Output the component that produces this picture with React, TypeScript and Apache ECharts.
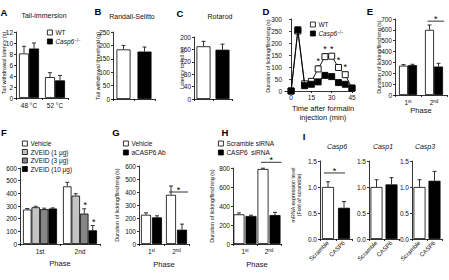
import React, { useEffect, useRef } from 'react';
import * as echarts from 'echarts';

const FONT = '"Liberation Sans", Arial, Helvetica, sans-serif';
const INK = '#111';

// ---- A: tail immersion (s) ----
const tempCats = ['48 °C', '52 °C'];
const tailWT = [8.1, 3.8];
const tailWTErr = [1.3, 0.8];
const tailKO = [9.0, 3.2];
const tailKOErr = [1.0, 0.9];

// ---- B / C: one bar per genotype ----
const genotypes = ['WT', 'Casp6-/-'];
const randallSelitto = [185, 177];
const randallSelittoErr = [15, 17];
const rotarodLatency = [170, 159];
const rotarodLatencyErr = [16, 18];

// ---- D: formalin time course ----
const formalinTimes = [0, 5, 10, 15, 20, 25, 30, 35, 40, 45];
const formalinWT = [0, 250, 30, 40, 92, 143, 145, 98, 68, 12];
const formalinWTErr = [0, 10, 6, 6, 12, 12, 10, 10, 10, 4];
const formalinKO = [0, 255, 22, 28, 38, 65, 60, 35, 28, 12];
const formalinKOErr = [0, 8, 4, 5, 5, 8, 8, 5, 5, 3];
const formalinSigTimes = [20, 25, 30, 35, 40];

// ---- E: phases, knockout ----
const phases = ['1st', '2nd'];
const phaseWT = [270, 600];
const phaseWTErr = [10, 45];
const phaseKO = [275, 262];
const phaseKOErr = [8, 30];

// ---- F: ZVEID doses ----
const zvNames = ['Vehicle', 'ZVEID (1 μg)', 'ZVEID (3 μg)', 'ZVEID (10 μg)'];
const zvVehicle = [272, 455];
const zvVehicleErr = [8, 32];
const zv1 = [290, 382];
const zv1Err = [8, 15];
const zv3 = [275, 240];
const zv3Err = [8, 38];
const zv10 = [280, 108];
const zv10Err = [5, 38];

// ---- G: antibody ----
const abVehicle = [225, 378];
const abVehicleErr = [15, 68];
const abCasp6 = [205, 110];
const abCasp6Err = [12, 43];

// ---- H: siRNA ----
const siScramble = [312, 790];
const siScrambleErr = [15, 8];
const siCasp6 = [295, 305];
const siCasp6Err = [8, 28];

// ---- I: mRNA levels ----
const siCats = ['Scramble', 'CASP6'];
const casp6mRNA = [1.0, 0.6];
const casp6mRNAErr = [0.1, 0.12];
const casp1mRNA = [1.0, 1.05];
const casp1mRNAErr = [0.14, 0.13];
const casp3mRNA = [1.0, 1.12];
const casp3mRNAErr = [0.14, 0.18];

const WHITE = '#ffffff';
const BLACK = '#000000';
const LIGHT = '#c4c4c4';
const MID = '#858585';

type Group = { name: string; colors: string | string[]; values: number[]; errors: number[] };

const errShape = (x: number, y0: number, y1: number) => ({
  type: 'group',
  children: [
    { type: 'line', shape: { x1: x, y1: y0, x2: x, y2: y1 }, style: { stroke: '#000', lineWidth: 0.8 } },
    { type: 'line', shape: { x1: x - 2, y1: y1, x2: x + 2, y2: y1 }, style: { stroke: '#000', lineWidth: 0.8 } },
  ],
});

const barCenter = (api: any, ci: number, si: number, n: number, bw: number, gap: number) =>
  api.coord([ci, 0])[0] + (si - (n - 1) / 2) * (bw + gap);

function barPanel(gi: number, groups: Group[], bw: number, gap: number): any[] {
  const n = groups.length;
  const out: any[] = groups.map((g) => ({
    type: 'bar',
    name: g.name,
    xAxisIndex: gi,
    yAxisIndex: gi,
    barWidth: bw,
    barGap: `${(gap / bw) * 100}%`,
    silent: true,
    itemStyle: { color: Array.isArray(g.colors) ? g.colors[0] : g.colors, borderColor: '#000', borderWidth: 0.8 },
    data: g.values.map((v, i) => ({
      value: v,
      itemStyle: { color: Array.isArray(g.colors) ? g.colors[i] : g.colors },
    })),
  }));
  const errData: number[][] = [];
  groups.forEach((g, si) => g.values.forEach((v, ci) => errData.push([ci, si, v, g.errors[ci]])));
  out.push({
    type: 'custom',
    xAxisIndex: gi,
    yAxisIndex: gi,
    silent: true,
    z: 1,
    encode: { x: 0, y: 2 },
    data: errData,
    renderItem: (_p: any, api: any) => {
      const ci = api.value(0);
      const si = api.value(1);
      const v = api.value(2);
      const e = api.value(3);
      const x = barCenter(api, ci, si, n, bw, gap);
      return errShape(x, api.coord([ci, v])[1], api.coord([ci, v + e])[1]);
    },
  });
  return out;
}

const star = (x: number, y: number) => ({
  type: 'text',
  x,
  y,
  style: { text: '*', fontSize: 9, fontFamily: FONT, fill: '#000', align: 'center', verticalAlign: 'middle' },
});
const hline = (x1: number, x2: number, y: number) => ({
  type: 'line',
  shape: { x1, y1: y, x2, y2: y },
  style: { stroke: '#000', lineWidth: 0.8 },
});

function annotations(gi: number, draw: (api: any) => any[]) {
  return {
    type: 'custom',
    xAxisIndex: gi,
    yAxisIndex: gi,
    silent: true,
    z: 5,
    data: [[0, 0]],
    renderItem: (_p: any, api: any) => ({ type: 'group', children: draw(api) }),
  };
}

// bracket over a pair of bars in one category, with an asterisk on top
const pairBracket = (gi: number, ci: number, n: number, bw: number, gap: number, level: number) =>
  annotations(gi, (api) => {
    const x1 = barCenter(api, ci, 0, n, bw, gap) - 2;
    const x2 = barCenter(api, ci, n - 1, n, bw, gap) + bw / 2 + 1;
    const y = api.coord([ci, level])[1];
    return [hline(x1, x2, y), star((x1 + x2) / 2, y - 2)];
  });

const axisLineStyle = { color: '#000', width: 0.8 };

const yAx = (gi: number, max: number, interval: number, fmt?: (v: number) => string) => ({
  type: 'value',
  gridIndex: gi,
  min: 0,
  max,
  interval,
  axisLine: { show: true, lineStyle: axisLineStyle },
  axisTick: { show: true, length: 2, lineStyle: axisLineStyle },
  axisLabel: { fontSize: 6.5, color: INK, fontFamily: FONT, margin: 3, formatter: fmt },
  splitLine: { show: false },
});

const supRich = { s: { fontSize: 4.5, fontFamily: FONT, color: INK, verticalAlign: 'top', lineHeight: 5 } };

const xCat = (gi: number, data: string[], label: any = {}, name = '', nameGap = 12) => ({
  type: 'category',
  gridIndex: gi,
  data,
  name,
  nameLocation: 'middle',
  nameGap,
  nameTextStyle: { fontSize: 7.5, color: INK, fontFamily: FONT },
  axisLine: { show: true, lineStyle: axisLineStyle },
  axisTick: { show: true, length: 2, lineStyle: axisLineStyle },
  axisLabel: { fontSize: 6.5, color: INK, fontFamily: FONT, margin: 4, interval: 0, hideOverlap: false, ...label },
});

const phaseLabel = {
  formatter: (v: string) => `${v.charAt(0)}{s|${v.slice(1)}}`,
  rich: supRich,
};

const legendBase = {
  orient: 'vertical',
  itemWidth: 5,
  itemHeight: 5,
  itemGap: 2,
  padding: 0,
  selectedMode: false,
  icon: 'rect',
  textStyle: {
    fontSize: 6.5,
    fontFamily: FONT,
    color: INK,
    padding: [0, 0, 0, -2],
    rich: {
      i: { fontSize: 6.5, fontFamily: FONT, color: INK, fontStyle: 'italic' },
      s: { fontSize: 4.5, fontFamily: FONT, color: INK, verticalAlign: 'top', lineHeight: 5 },
    },
  },
  formatter: (name: string) => (name === 'Casp6-/-' ? '{i|Casp6}{s|−/−}' : name),
};
const legendItem = (name: string, color: string) => ({
  name,
  itemStyle: { color, borderColor: '#000', borderWidth: 0.8 },
});

const txt = (x: number, y: number, text: string, size: number, extra: any = {}) => ({
  type: 'text',
  x,
  y,
  silent: true,
  style: { text, fontSize: size, fontFamily: FONT, fill: INK, align: 'center', verticalAlign: 'middle', ...extra },
});
const vtxt = (x: number, y: number, text: string, size: number) => ({
  ...txt(x, y, text, size),
  rotation: Math.PI / 2,
});
const letter = (x: number, y: number, text: string) => txt(x, y, text, 9.5, { fontWeight: 'bold', fill: '#000' });

function buildOption(): any {
  const grids = [
    { left: 16, top: 32, width: 52, height: 66 }, // A
    { left: 113, top: 32, width: 42, height: 67 }, // B
    { left: 194, top: 37, width: 38, height: 62 }, // C
    { left: 285, top: 19, width: 67, height: 72 }, // D
    { left: 395, top: 19, width: 52, height: 76 }, // E
    { left: 20, top: 168, width: 80, height: 76 }, // F
    { left: 139, top: 166, width: 50, height: 78 }, // G
    { left: 233, top: 168, width: 48, height: 76 }, // H
    { left: 320, top: 161, width: 32, height: 78 }, // I Casp6
    { left: 369, top: 161, width: 30, height: 78 }, // I Casp1
    { left: 412, top: 161, width: 30, height: 78 }, // I Casp3
  ];

  const fixed1 = (v: number) => v.toFixed(1);
  const rotLabel = { rotate: 45, fontSize: 6, margin: 3 };

  const xAxis: any[] = [
    xCat(0, tempCats),
    xCat(1, genotypes, { show: false }),
    xCat(2, genotypes, { show: false }),
    {
      type: 'value',
      gridIndex: 3,
      min: -4.5,
      max: 45,
      axisLine: { show: true, lineStyle: axisLineStyle },
      axisTick: { show: true, length: 2, lineStyle: axisLineStyle, customValues: [0, 15, 30, 45] },
      axisLabel: { fontSize: 6.5, color: INK, fontFamily: FONT, margin: 3, customValues: [0, 15, 30, 45] },
      splitLine: { show: false },
    },
    xCat(4, phases, phaseLabel, 'Phase', 11),
    xCat(5, phases, {}, 'Phase', 15),
    xCat(6, phases, phaseLabel, 'Phase', 16),
    xCat(7, phases, phaseLabel, 'Phase', 16),
    xCat(8, siCats, rotLabel),
    xCat(9, siCats, rotLabel),
    xCat(10, siCats, rotLabel),
  ];

  const yAxis: any[] = [
    yAx(0, 12, 2),
    yAx(1, 250, 50),
    yAx(2, 200, 40),
    yAx(3, 300, 50),
    yAx(4, 700, 100),
    yAx(5, 600, 100),
    yAx(6, 600, 100),
    yAx(7, 800, 200),
    yAx(8, 1.5, 0.5, fixed1),
    yAx(9, 1.5, 0.5, fixed1),
    yAx(10, 1.5, 0.5, fixed1),
  ];

  const series: any[] = [
    ...barPanel(
      0,
      [
        { name: 'WT', colors: WHITE, values: tailWT, errors: tailWTErr },
        { name: 'Casp6-/-', colors: BLACK, values: tailKO, errors: tailKOErr },
      ],
      10,
      0,
    ),
    ...barPanel(1, [{ name: 'Randall', colors: [WHITE, BLACK], values: randallSelitto, errors: randallSelittoErr }], 14, 0),
    ...barPanel(2, [{ name: 'Rotarod', colors: [WHITE, BLACK], values: rotarodLatency, errors: rotarodLatencyErr }], 14, 0),
    // D: time course
    {
      type: 'custom',
      xAxisIndex: 3,
      yAxisIndex: 3,
      silent: true,
      z: 1,
      encode: { x: 0, y: 1 },
      data: [
        ...formalinTimes.map((t, i) => [t, formalinWT[i], formalinWTErr[i]]),
        ...formalinTimes.map((t, i) => [t, formalinKO[i], formalinKOErr[i]]),
      ],
      renderItem: (_p: any, api: any) => {
        const t = api.value(0);
        const v = api.value(1);
        const e = api.value(2);
        const p0 = api.coord([t, v]);
        const p1 = api.coord([t, v + e]);
        return errShape(p0[0], p0[1], p1[1]);
      },
    },
    {
      type: 'line',
      name: 'WT',
      xAxisIndex: 3,
      yAxisIndex: 3,
      z: 3,
      silent: true,
      data: formalinTimes.map((t, i) => [t, formalinWT[i]]),
      symbol: 'rect',
      symbolSize: 6,
      showAllSymbol: true,
      lineStyle: { color: '#000', width: 0.9 },
      itemStyle: { color: '#fff', borderColor: '#000', borderWidth: 0.9 },
    },
    {
      type: 'line',
      name: 'Casp6-/-',
      xAxisIndex: 3,
      yAxisIndex: 3,
      z: 4,
      silent: true,
      data: formalinTimes.map((t, i) => [t, formalinKO[i]]),
      symbol: 'rect',
      symbolSize: 6,
      showAllSymbol: true,
      lineStyle: { color: '#000', width: 0.9 },
      itemStyle: { color: '#000', borderColor: '#000', borderWidth: 0.9 },
    },
    annotations(3, (api) =>
      formalinSigTimes.map((t) => {
        const i = formalinTimes.indexOf(t);
        const p = api.coord([t, formalinWT[i] + formalinWTErr[i]]);
        return star(p[0], p[1] - 5);
      }),
    ),
    // E
    ...barPanel(
      4,
      [
        { name: 'WT', colors: WHITE, values: phaseWT, errors: phaseWTErr },
        { name: 'Casp6-/-', colors: BLACK, values: phaseKO, errors: phaseKOErr },
      ],
      9,
      0,
    ),
    pairBracket(4, 1, 2, 9, 0, 680),
    // F
    ...barPanel(
      5,
      [
        { name: zvNames[0], colors: WHITE, values: zvVehicle, errors: zvVehicleErr },
        { name: zvNames[1], colors: LIGHT, values: zv1, errors: zv1Err },
        { name: zvNames[2], colors: MID, values: zv3, errors: zv3Err },
        { name: zvNames[3], colors: BLACK, values: zv10, errors: zv10Err },
      ],
      8.5,
      0,
    ),
    annotations(5, (api) => {
      const marks: any[] = [];
      [
        [2, zv3, zv3Err],
        [3, zv10, zv10Err],
      ].forEach(([si, vals, errs]: any) => {
        const x = barCenter(api, 1, si, 4, 8.5, 0);
        const y = api.coord([1, vals[1] + errs[1]])[1];
        marks.push(star(x + 1, y - 4));
      });
      return marks;
    }),
    // G
    ...barPanel(
      6,
      [
        { name: 'Vehicle', colors: WHITE, values: abVehicle, errors: abVehicleErr },
        { name: 'aCASP6 Ab', colors: BLACK, values: abCasp6, errors: abCasp6Err },
      ],
      10,
      1,
    ),
    pairBracket(6, 1, 2, 10, 1, 400),
    // H
    ...barPanel(
      7,
      [
        { name: 'Scramble siRNA', colors: WHITE, values: siScramble, errors: siScrambleErr },
        { name: 'CASP6  siRNA', colors: BLACK, values: siCasp6, errors: siCasp6Err },
      ],
      11,
      1,
    ),
    pairBracket(7, 1, 2, 11, 1, 860),
    // I
    ...barPanel(8, [{ name: 'Casp6 mRNA', colors: [WHITE, BLACK], values: casp6mRNA, errors: casp6mRNAErr }], 12, 0),
    annotations(8, (api) => {
      const x1 = api.coord([0, 0])[0] - 4;
      const x2 = api.coord([1, 0])[0] + 1;
      const y = api.coord([0, 1.27])[1];
      return [hline(x1, x2, y), star((x1 + x2) / 2, y - 2)];
    }),
    ...barPanel(9, [{ name: 'Casp1 mRNA', colors: [WHITE, BLACK], values: casp1mRNA, errors: casp1mRNAErr }], 12, 0),
    ...barPanel(10, [{ name: 'Casp3 mRNA', colors: [WHITE, BLACK], values: casp3mRNA, errors: casp3mRNAErr }], 12, 0),
  ];

  const legend = [
    { ...legendBase, left: 47, top: 29, data: [legendItem('WT', WHITE), legendItem('Casp6-/-', BLACK)] },
    { ...legendBase, left: 310, top: 21, data: [legendItem('WT', WHITE), legendItem('Casp6-/-', BLACK)] },
    {
      ...legendBase,
      left: 22,
      top: 140,
      itemGap: 1.5,
      data: [
        legendItem(zvNames[0], WHITE),
        legendItem(zvNames[1], LIGHT),
        legendItem(zvNames[2], MID),
        legendItem(zvNames[3], BLACK),
      ],
    },
    { ...legendBase, left: 123, top: 140, data: [legendItem('Vehicle', WHITE), legendItem('aCASP6 Ab', BLACK)] },
    {
      ...legendBase,
      left: 218,
      top: 140,
      data: [legendItem('Scramble siRNA', WHITE), legendItem('CASP6  siRNA', BLACK)],
    },
  ];

  const durationTitle = 'Duration of licking/flinching (s)';
  const graphic = [
    letter(4, 12, 'A'),
    letter(98, 11, 'B'),
    letter(180, 13, 'C'),
    letter(266, 11, 'D'),
    letter(370, 11, 'E'),
    letter(4, 132, 'F'),
    letter(116, 132, 'G'),
    letter(225, 132, 'H'),
    letter(304, 136, 'I'),
    txt(44, 15, 'Tail-immersion', 7),
    txt(132, 16, 'Randall-Selitto', 7),
    txt(220, 16, 'Rotarod', 7),
    txt(337, 146, 'Casp6', 7, { fontStyle: 'italic' }),
    txt(383, 146, 'Casp1', 7, { fontStyle: 'italic' }),
    txt(425, 146, 'Casp3', 7, { fontStyle: 'italic' }),
    vtxt(4, 63, 'Tail withdrawal latency (s)', 5.5),
    vtxt(98, 66, 'Tail withdrawal threshold (g)', 5.5),
    vtxt(182, 68, 'Latency to fall (s)', 5.5),
    vtxt(268, 56, durationTitle, 5.5),
    vtxt(379, 57, durationTitle, 5.5),
    vtxt(117, 205, durationTitle, 5.5),
    vtxt(212, 206, durationTitle, 5.5),
    vtxt(293, 195, 'mRNA expression level', 5.3),
    vtxt(299, 195, '(Fold of scramble)', 5.3),
    txt(323, 113, 'Time after formalin\ninjection (min)', 7.5, { lineHeight: 9 }),
  ];

  return {
    animation: false,
    backgroundColor: '#ffffff',
    textStyle: { fontFamily: FONT },
    grid: grids.map((g) => ({ ...g, containLabel: false })),
    xAxis,
    yAxis,
    legend,
    series,
    graphic,
  };
}

export default function App() {
  const ref = useRef<HTMLDivElement>(null);
  useEffect(() => {
    if (!ref.current) return;
    const chart = echarts.init(ref.current, undefined, { renderer: 'svg', width: 449, height: 280 });
    chart.setOption(buildOption());
    return () => chart.dispose();
  }, []);
  return (
    <div
      ref={ref}
      style={{ position: 'absolute', left: 0, top: 0, width: 449, height: 280, background: '#fff' }}
    />
  );
}
